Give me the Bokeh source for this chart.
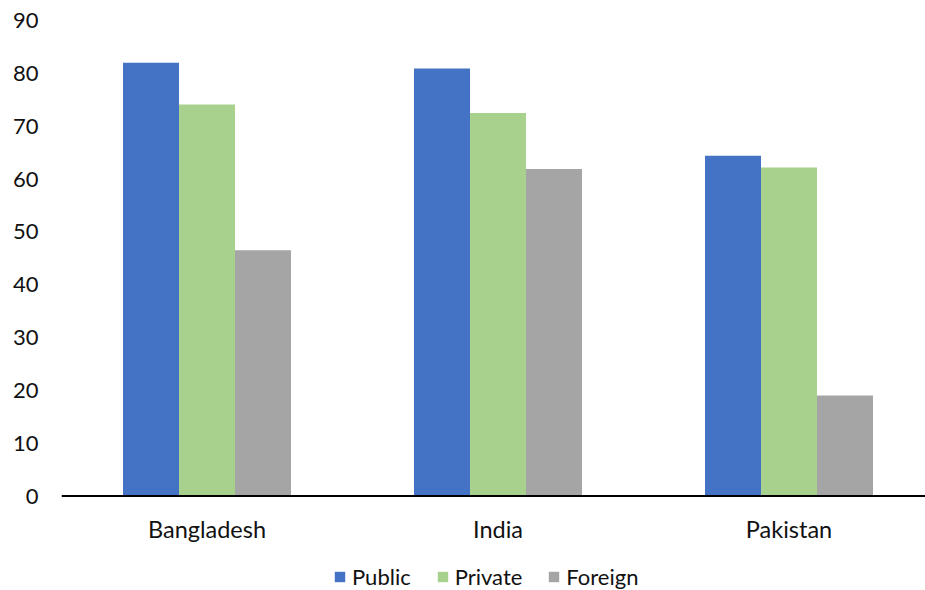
from bokeh.plotting import figure
from bokeh.models import (ColumnDataSource, Range1d, FixedTicker, Legend,
                          LegendItem, Span)
from bokeh.embed import file_html
from bokeh.resources import INLINE

# Share of firms (%) by ownership type
countries = ["Bangladesh", "India", "Pakistan"]
public = [82.0, 80.9, 64.4]
private = [74.1, 72.5, 62.2]
foreign = [46.5, 61.9, 19.0]
series_names = ["Public", "Private", "Foreign"]
series_colors = ["#4472C4", "#A9D18E", "#A5A5A5"]
y_ticks = [0, 10, 20, 30, 40, 50, 60, 70, 80, 90]

FONT = "Lato"
TEXT_COLOR = "#111111"

# vertical scale: 0..90 over 475.5 px, frame extended down to the page
# bottom so the category labels and legend live inside it
units_per_px = 90 / 475.5
y_bottom = -94.5 * units_per_px

centers = [i + 0.5 for i in range(len(countries))]
bar_w = 56 / 291
offsets = [-bar_w, 0.0, bar_w]

p = figure(width=925, height=590, output_backend="svg", toolbar_location=None,
           x_range=Range1d(0, 864 / 291), y_range=Range1d(y_bottom, 90),
           min_border_left=61, min_border_right=0, min_border_top=20,
           min_border_bottom=0)
p.outline_line_color = None
p.xgrid.visible = False
p.ygrid.visible = False
p.xaxis.visible = False
p.background_fill_color = "white"
p.border_fill_color = "white"

items = []
for name, vals, color, off in zip(series_names, [public, private, foreign],
                                  series_colors, offsets):
    src = ColumnDataSource(dict(x=[c + off for c in centers], top=vals))
    r = p.vbar(x="x", top="top", width=bar_w, bottom=0, source=src,
               fill_color=color, line_color=None)
    items.append(LegendItem(label=name, renderers=[r]))

# category axis line at zero
p.add_layout(Span(location=0, dimension="width", line_color="black",
                  line_width=2))

# category names under each group
lab = ColumnDataSource(dict(x=centers, y=[0] * len(centers), t=countries))
p.text(x="x", y="y", text="t", source=lab, text_align="center",
       text_baseline="top", y_offset=19, text_font={"value": FONT},
       text_font_size="23.5px", text_color=TEXT_COLOR)

# y axis: labels only
p.yaxis.ticker = FixedTicker(ticks=y_ticks)
p.yaxis.axis_line_color = None
p.yaxis.major_tick_line_color = None
p.yaxis.minor_tick_line_color = None
p.yaxis.major_label_standoff = 17
p.yaxis.major_label_text_font = FONT
p.yaxis.major_label_text_font_size = "22px"
p.yaxis.major_label_text_color = TEXT_COLOR

# legend under the category labels
legend = Legend(items=items, orientation="horizontal", location=(272, 0),
                glyph_width=13, glyph_height=13, label_standoff=6, spacing=25,
                label_text_font=FONT, label_text_font_size="22px",
                label_text_color=TEXT_COLOR, border_line_color=None,
                background_fill_alpha=0, padding=0, margin=0)
p.add_layout(legend)

open("out.html", "w").write(file_html(p, INLINE))
